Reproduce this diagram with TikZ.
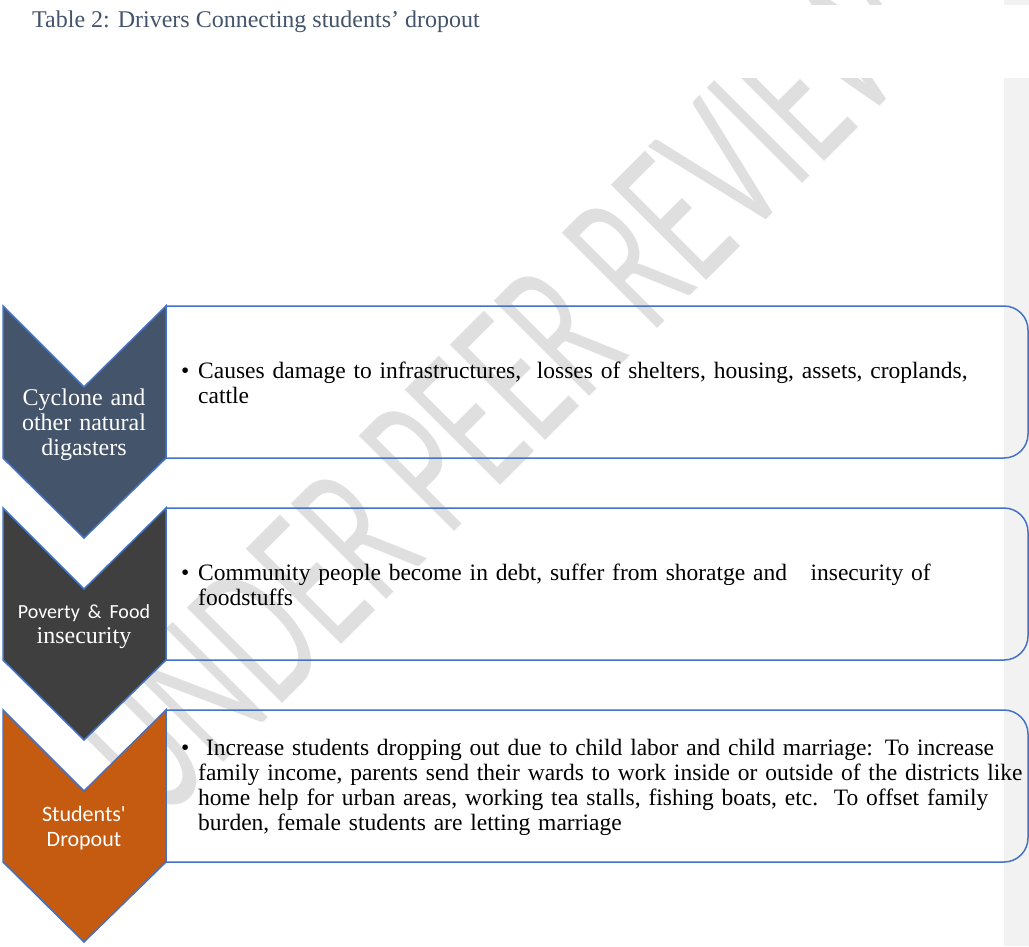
\documentclass[tikz,border=0pt]{standalone}
\usepackage{fontspec}
\usepackage{graphicx}
\setmainfont{Liberation Serif}
\newfontfamily\calfont{Carlito}
\newfontfamily\wmfont{Lato}
\definecolor{edgeblue}{HTML}{4472C4}
\definecolor{slate}{HTML}{44546A}
\definecolor{darkgrey}{HTML}{3F3F3F}
\definecolor{rust}{HTML}{C55A11}
\definecolor{wmgrey}{HTML}{DFDFDF}
\definecolor{sidebar}{HTML}{F2F2F2}
\begin{document}
\begin{tikzpicture}[x=1pt,y=-1pt,
  chevline/.style={draw=edgeblue, line width=1.5pt, line join=miter},
  boxline/.style={draw=edgeblue, line width=1.5pt, rounded corners=24pt},
  chevtext/.style={text=white, align=center, text width=160pt, inner sep=0pt, anchor=base, font=\fontsize{24}{25}\selectfont},
  bodytext/.style={text=black, align=left, text width=900pt, inner sep=0pt, anchor=base west, font=\fontsize{23.5}{25}\selectfont},
  bulletmark/.style={text=black, anchor=base west, inner sep=0pt, font=\fontsize{23.5}{25}\selectfont},
  wmtext/.style={text=wmgrey, anchor=base west, rotate=45, inner sep=0pt, font=\fontsize{188}{188}\wmfont\selectfont},
  titletext/.style={text=slate, anchor=base west, inner sep=0pt, font=\fontsize{24}{25}\selectfont}]
\useasboundingbox (0,0) rectangle (1029,946);
\fill[white] (0,0) rectangle (1029,946);
\fill[sidebar] (1004,0) rectangle (1029,946);
% watermark
\node[wmtext] (wm) at (160,826) {\scalebox{0.58}[1]{UNDER PEER REVIEW}};
\fill[white] (0,5) rectangle (1029,78);
% title
\node[titletext] (title) at (32,27) {Table 2: Drivers Connecting students’ dropout};
% boxes
\draw[boxline] (166,306) -- (1028,306) -- (1028,458) -- (166,458);
\draw[boxline] (166,508) -- (1028,508) -- (1028,660) -- (166,660);
\draw[boxline] (166,710) -- (1028,710) -- (1028,862) -- (166,862);
% chevrons
\filldraw[chevline, fill=slate] (3,306) -- (84,387) -- (166,306) -- (166,458) -- (84,538) -- (3,458) -- cycle;
\filldraw[chevline, fill=darkgrey] (3,508) -- (84,589) -- (166,508) -- (166,660) -- (84,740) -- (3,660) -- cycle;
\filldraw[chevline, fill=rust] (3,710) -- (84,791) -- (166,710) -- (166,862) -- (84,942) -- (3,862) -- cycle;
% chevron labels
\node[chevtext] (c1) at (84,405) {Cyclone and\\other natural\\digasters};
\node[chevtext] (c2) at (84,618) {{\calfont\fontsize{20}{25}\selectfont Poverty \& Food}\\insecurity};
\node[chevtext] (c3) at (84,821) {{\calfont\fontsize{22}{25}\selectfont Students\textquotesingle}\\{\calfont\fontsize{22}{25}\selectfont Dropout}};
% bullets
\node[bulletmark] (b1) at (181,378) {\textbullet};
\node[bulletmark] (b2) at (181,580) {\textbullet};
\node[bulletmark] (b3) at (181,755) {\textbullet};
% body text
\node[bodytext] (t1) at (198,378) {Causes damage to infrastructures,\ \ losses of shelters, housing, assets, croplands,\\cattle};
\node[bodytext] (t2) at (198,580) {Community people become in debt, suffer from shoratge and\ \ \ insecurity of\\foodstuffs};
\node[bodytext] (t3) at (198,755) {\ Increase students dropping out due to child labor and child marriage: To increase\\family income, parents send their wards to work inside or outside of the districts like\\home help for urban areas, working tea stalls, fishing boats, etc.\ \ To offset family\\burden, female students are letting marriage};
\end{tikzpicture}
\end{document}
